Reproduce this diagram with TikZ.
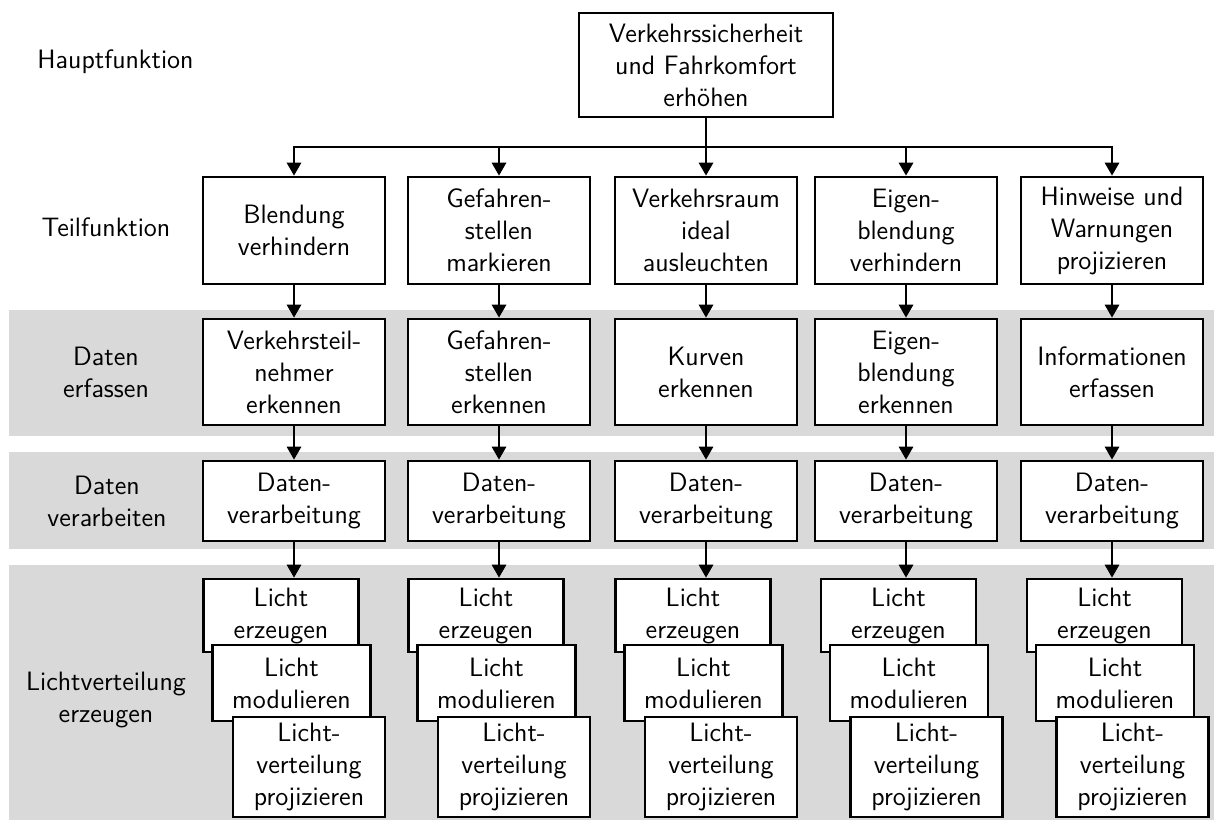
\documentclass[tikz,border=0pt]{standalone}
\usetikzlibrary{arrows.meta}
\begin{document}
\begin{tikzpicture}[x=0.5pt,y=-0.5pt,
  every node/.style={font=\sffamily\fontsize{13.3pt}{16pt}\selectfont, align=center},
  box/.style={draw, line width=1.3pt, fill=white, inner sep=1pt},
  colbox/.style={box, minimum width=91pt},
  arr/.style={line width=1.4pt, -{Triangle[length=6.5pt,width=7pt]}}]
\useasboundingbox (0,0) rectangle (1214,821);

% shaded level bands
\fill[black!15] (9,310) rectangle (1214,436);
\fill[black!15] (9,452) rectangle (1214,549);
\fill[black!15] (9,565) rectangle (1214,820);

% level labels
\node (lh) at (115.5,62) {Hauptfunktion};
\node (lt) at (106,227) {Teilfunktion};
\node (ld) at (106,372) {Daten\\erfassen};
\node (lv) at (107,501) {Daten\\verarbeiten};
\node (ll) at (106,700) {Lichtverteilung\\erzeugen};

% main function
\node[box, minimum width=127pt, minimum height=52pt] (top) at (706,65)
  {Verkehrssicherheit\\und Fahrkomfort\\erhöhen};
\coordinate (bar) at (0,147);

% one column per sub-function
\foreach \i/\cx/\s/\tf/\df in {
  1/294/-13/{Blendung\\verhindern}/{Verkehrsteil-\\nehmer\\erkennen},
  2/499/-13/{Gefahren-\\stellen\\markieren}/{Gefahren-\\stellen\\erkennen},
  3/706/-13/{Verkehrsraum\\ideal\\ausleuchten}/{Kurven\\erkennen},
  4/906/-7.5/{Eigen-\\blendung\\verhindern}/{Eigen-\\blendung\\erkennen},
  5/1112/-7.5/{Hinweise und\\Warnungen\\projizieren}/{Informationen\\erfassen}}{
  \node[colbox, minimum height=53.5pt] (t\i) at (\cx,230.5) {\tf};
  \node[colbox, minimum height=53pt] (d\i) at (\cx,372) {\df};
  \node[colbox, minimum height=40pt] (v\i) at (\cx,501) {Daten-\\verarbeitung};
  \node[box, minimum width=77.5pt, minimum height=36.5pt] (a\i) at (\cx+\s,615.5) {Licht\\erzeugen};
  \node[box, minimum width=79pt, minimum height=38pt] (b\i) at (\cx+\s+10.5,683) {Licht\\modulieren};
  \node[box, minimum width=76pt, minimum height=50pt] (c\i) at (\cx+\s+28,767) {Licht-\\verteilung\\projizieren};
  \draw[arr] (t\i) -- (d\i);
  \draw[arr] (d\i) -- (v\i);
  \draw[arr] (v\i.south) -- (v\i.south |- a\i.north);
}

% branching from the main function
\draw[arr] (top) -- (t3);
\foreach \i in {1,2,4,5}
  \draw[arr] (top.south) |- (bar -| t\i) -- (t\i);
\end{tikzpicture}
\end{document}
